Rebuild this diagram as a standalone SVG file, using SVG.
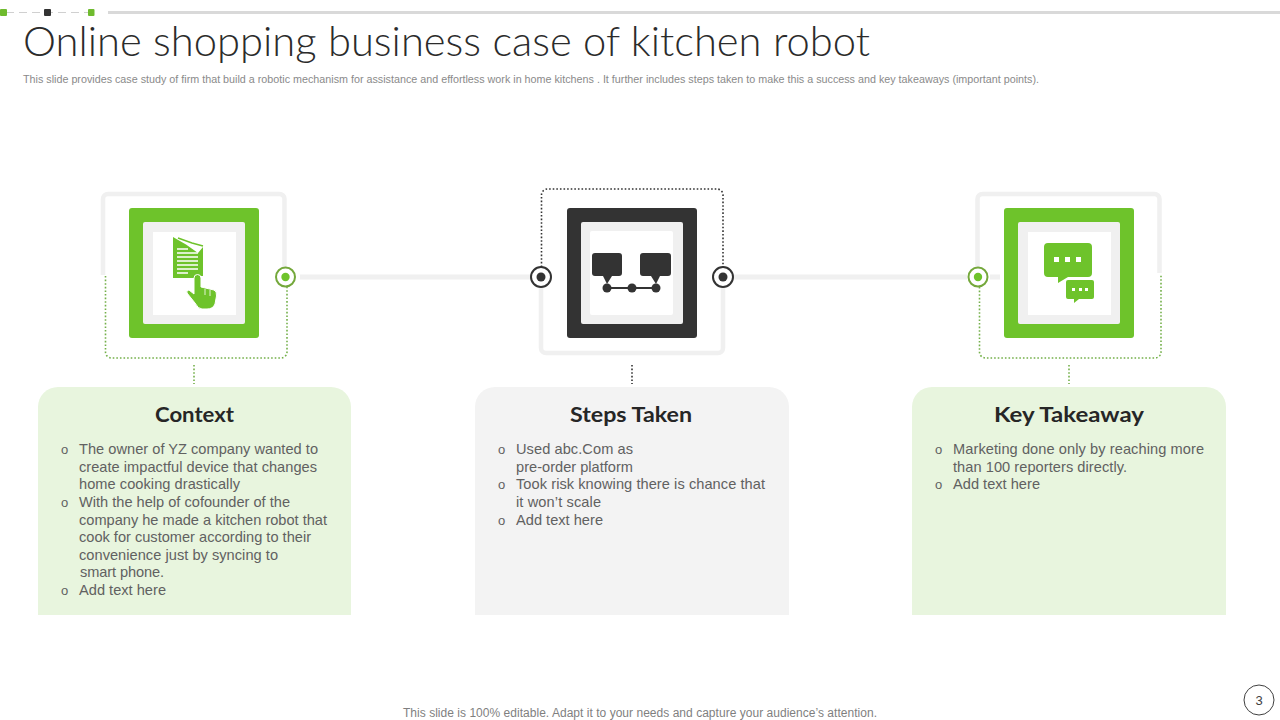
<svg xmlns="http://www.w3.org/2000/svg" width="1280" height="720" viewBox="0 0 1280 720">
<style>
text{font-family:"Liberation Sans",Arial,sans-serif}
.title{font-family:"Lato","Liberation Sans",sans-serif;font-size:42px;font-weight:300;fill:#2b2b2b}
.head{font-family:"Lato","Liberation Sans",sans-serif;font-size:21px;font-weight:700;fill:#262626;text-anchor:middle}
.b{font-size:14.6px;fill:#616161}
.o{font-size:13px;fill:#616161}
.frame{fill:none;stroke:#f0f0f0;stroke-width:4.500}
.link{fill:none;stroke:#f0f0f0;stroke-width:5}
.dg{fill:none;stroke:#74b04a;stroke-width:1.600;stroke-dasharray:1.600 2}
.dk{fill:none;stroke:#333;stroke-width:1.600;stroke-dasharray:1.600 2}
.g{fill:#6ec32b}
.k{fill:#333}
</style>
<g id="top-bar">
<path d="M6 12.500H90" stroke="#bbb" stroke-width="0.700" stroke-dasharray="8 5" fill="none"/>
<rect x="0" y="9" width="7" height="7" rx="1" fill="#6fbb2e"/>
<rect x="44" y="9" width="7" height="7" rx="1" fill="#333"/>
<rect x="88" y="9" width="6.500" height="7" rx="1" fill="#6fbb2e"/>
<rect x="108" y="11" width="1172" height="3" fill="#d9d9d9"/>
</g>
<text class="title" x="23" y="56" textLength="847" lengthAdjust="spacingAndGlyphs">Online shopping business case of kitchen robot</text>
<text x="23" y="83" font-size="10.500" fill="#8a8a8a" textLength="1016" lengthAdjust="spacingAndGlyphs">This slide provides case study of firm that build a robotic mechanism  for assistance and effortless work in home kitchens . It further includes steps taken to make this a success and key takeaways (important points).</text>
<g id="connectors">
<path class="link" d="M300 277H530M734 277H967M990 277H1000"/>
<path class="dg" d="M194 365V384M1069 365V384"/>
<path class="dk" d="M632 365V384"/>
</g>
<g id="node-context">
<path class="frame" d="M103 275V199a5 5 0 0 1 5-5H279a5 5 0 0 1 5.500 5V268"/>
<path class="dg" d="M105.500 276V352a6 6 0 0 0 6 6H281a6 6 0 0 0 6-6V287"/>
<circle cx="285.500" cy="277" r="9.500" fill="#fff" stroke="#74a83b" stroke-width="2"/>
<circle cx="285.500" cy="277" r="4.200" class="g"/>
<rect x="129" y="208" width="130" height="130" rx="3" class="g"/>
<rect x="143" y="222" width="102" height="102" rx="2" fill="#f0f0f0"/>
<rect x="153" y="232" width="83" height="83" fill="#fff"/>
<path class="g" d="M173 237L186 244.500L198 253L203 247V276H197V278H173Z"/>
<path fill="none" stroke="#6ec32b" stroke-width="1.500" d="M178 238L192 243L203 246"/>
<path stroke="#fff" stroke-width="1.600" fill="none" d="M177 249H188M177 253H198M177 257H198M177 261H198M177 265H198M177 269H198M177 273H188"/>
<path class="g" stroke="#fff" stroke-width="1" d="M194 278a3.500 3.500 0 0 1 7 0V287L214 290Q217 291 216.500 296L215 304Q213 309 207 309H202Q198 309 195 303L187 293Q186 290 189 290L194 294Z"/>
<path stroke="#fff" stroke-width="0.800" fill="none" d="M205 289V295M210 290V296"/>
</g>
<g id="node-steps">
<path class="frame" d="M541 287V348a5 5 0 0 0 5 5H718a5 5 0 0 0 5-5V287"/>
<path class="dk" d="M541.500 267V195a6 6 0 0 1 6-6H717a6 6 0 0 1 6 6V267"/>
<circle cx="541" cy="277" r="10" fill="#fff" stroke="#333" stroke-width="2"/>
<circle cx="541" cy="277" r="4.500" class="k"/>
<circle cx="723" cy="277" r="10" fill="#fff" stroke="#333" stroke-width="2"/>
<circle cx="723" cy="277" r="4.500" class="k"/>
<rect x="567" y="208" width="130" height="130" rx="3" class="k"/>
<rect x="581" y="222" width="102" height="102" rx="2" fill="#f0f0f0"/>
<rect x="590" y="231" width="83" height="84" rx="2" fill="#fff"/>
<path class="k" d="M595 253H619a3 3 0 0 1 3 3V273a3 3 0 0 1-3 3H612L607 284L603 276H595a3 3 0 0 1-3-3V256a3 3 0 0 1 3-3Z"/>
<path class="k" d="M643 253H668a3 3 0 0 1 3 3V273a3 3 0 0 1-3 3H660L656 284L651 276H643a3 3 0 0 1-3-3V256a3 3 0 0 1 3-3Z"/>
<path stroke="#333" stroke-width="2" d="M607 288H656"/>
<circle cx="607" cy="288" r="4.500" class="k"/><circle cx="632" cy="288" r="4.500" class="k"/><circle cx="656" cy="288" r="4.500" class="k"/>
</g>
<g id="node-takeaway">
<path class="frame" d="M977.500 268V199a5 5 0 0 1 5-5H1154a5 5 0 0 1 5.500 5V273"/>
<path class="dg" d="M979.500 287V352a6 6 0 0 0 6 6H1155a6 6 0 0 0 6-6V275"/>
<circle cx="978" cy="277" r="9.500" fill="#fff" stroke="#74a83b" stroke-width="2"/>
<circle cx="978" cy="277" r="4.200" class="g"/>
<rect x="1004" y="208" width="130" height="130" rx="3" class="g"/>
<rect x="1018" y="222" width="102" height="102" rx="2" fill="#f0f0f0"/>
<rect x="1028" y="232" width="83" height="83" fill="#fff"/>
<path class="g" d="M1048 243H1088a4 4 0 0 1 4 4V273a4 4 0 0 1-4 4H1068L1058 283V277H1048a4 4 0 0 1-4-4V247a4 4 0 0 1 4-4Z"/>
<path fill="#fff" d="M1054 257h5v5h-5zM1065 257h5v5h-5zM1076 257h5v5h-5z"/>
<path class="g" d="M1068 280H1092a2 2 0 0 1 2 2V297a2 2 0 0 1-2 2H1079L1074 303V299H1068a2 2 0 0 1-2-2V282a2 2 0 0 1 2-2Z"/>
<path fill="#fff" d="M1072 288h3v3h-3zM1079 288h3v3h-3zM1085 288h3v3h-3z"/>
</g>
<g id="card-context">
<path fill="#e8f5de" d="M38 615V407a20 20 0 0 1 20-20H331a20 20 0 0 1 20 20V615Z"/>
<text class="head" x="194.500" y="422" textLength="79" lengthAdjust="spacingAndGlyphs">Context</text>
<text class="o" x="61" y="454">o</text>
<text class="b" x="79" y="454" textLength="239" lengthAdjust="spacing">The owner of YZ  company wanted to</text>
<text class="b" x="79" y="472" textLength="238" lengthAdjust="spacing">create impactful device that changes</text>
<text class="b" x="79" y="489" textLength="161" lengthAdjust="spacing">home cooking drastically</text>
<text class="o" x="61" y="507">o</text>
<text class="b" x="79" y="507" textLength="211" lengthAdjust="spacing">With the help of cofounder of the</text>
<text class="b" x="79" y="525" textLength="248" lengthAdjust="spacing">company he made a kitchen robot that</text>
<text class="b" x="79" y="542" textLength="232" lengthAdjust="spacing">cook for customer according to their</text>
<text class="b" x="79" y="560" textLength="199" lengthAdjust="spacing">convenience just by syncing to</text>
<text class="b" x="80" y="577" textLength="84" lengthAdjust="spacing">smart phone.</text>
<text class="o" x="61" y="595">o</text>
<text class="b" x="79" y="595" textLength="87" lengthAdjust="spacing">Add text here</text>
</g>
<g id="card-steps">
<path fill="#f3f3f3" d="M475 615V407a20 20 0 0 1 20-20H769a20 20 0 0 1 20 20V615Z"/>
<text class="head" x="631" y="422" textLength="122" lengthAdjust="spacingAndGlyphs">Steps Taken</text>
<text class="o" x="498" y="454">o</text>
<text class="b" x="516" y="454" textLength="117" lengthAdjust="spacing">Used abc.Com as</text>
<text class="b" x="516" y="472" textLength="117" lengthAdjust="spacing">pre-order platform</text>
<text class="o" x="498" y="489">o</text>
<text class="b" x="516" y="489" textLength="249" lengthAdjust="spacing">Took risk knowing there is chance that</text>
<text class="b" x="516" y="507" textLength="85" lengthAdjust="spacing">it won’t scale</text>
<text class="o" x="498" y="525">o</text>
<text class="b" x="516" y="525" textLength="87" lengthAdjust="spacing">Add text here</text>
</g>
<g id="card-takeaway">
<path fill="#e8f5de" d="M912 615V407a20 20 0 0 1 20-20H1206a20 20 0 0 1 20 20V615Z"/>
<text class="head" x="1069" y="422" textLength="150" lengthAdjust="spacingAndGlyphs">Key Takeaway</text>
<text class="o" x="935" y="454">o</text>
<text class="b" x="953" y="454" textLength="251" lengthAdjust="spacing">Marketing done only by reaching more</text>
<text class="b" x="953" y="472" textLength="174" lengthAdjust="spacing">than 100 reporters directly.</text>
<text class="o" x="935" y="489">o</text>
<text class="b" x="953" y="489" textLength="87" lengthAdjust="spacing">Add text here</text>
</g>
<text x="403" y="717" font-size="12" fill="#7f7f7f" textLength="474" lengthAdjust="spacing">This slide is 100% editable. Adapt it to your needs and capture your audience’s attention.</text>
<g id="page-number">
<circle cx="1259" cy="700" r="15" fill="#fff" stroke="#404040" stroke-width="1"/>
<text x="1259" y="705" font-size="13" fill="#404040" text-anchor="middle">3</text>
</g>
</svg>
